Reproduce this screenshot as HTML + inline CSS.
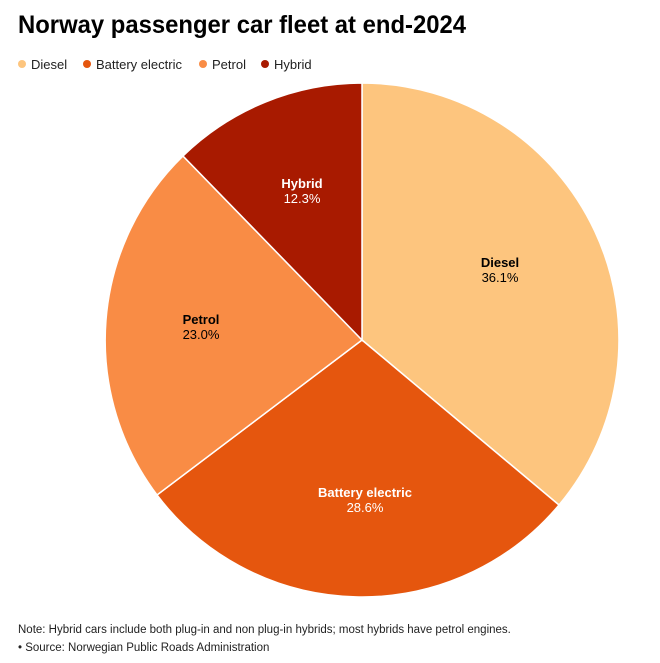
<!DOCTYPE html>
<html><head><meta charset="utf-8"><style>
body{margin:0;width:660px;height:658px;background:#fff;font-family:"Liberation Sans",Arial,sans-serif;overflow:hidden}
</style></head><body>
<svg width="660" height="658" xmlns="http://www.w3.org/2000/svg" font-family="Liberation Sans, Arial, sans-serif">
<text x="18" y="33" font-size="25" font-weight="bold" fill="#000" textLength="448" lengthAdjust="spacingAndGlyphs">Norway passenger car fleet at end-2024</text>
<g font-size="13" fill="#222">
<circle cx="22" cy="64" r="4" fill="#fdc57e"/><text x="31" y="69">Diesel</text>
<circle cx="87" cy="64" r="4" fill="#e5560e"/><text x="96" y="69">Battery electric</text>
<circle cx="203" cy="64" r="4" fill="#f98c45"/><text x="212" y="69">Petrol</text>
<circle cx="265" cy="64" r="4" fill="#a81a00"/><text x="274" y="69">Hybrid</text>
</g>
<g stroke="#fff" stroke-width="1.5">
<path d="M362,340 L362,83 A257,257 0 0 1 559,505 Z" fill="#fdc57e"/>
<path d="M362,340 L559,505 A257,257 0 0 1 157,495 Z" fill="#e5560e"/>
<path d="M362,340 L157,495 A257,257 0 0 1 183,156 Z" fill="#f98c45"/>
<path d="M362,340 L183,156 A257,257 0 0 1 362,83 Z" fill="#a81a00"/>
</g>
<g font-size="13" text-anchor="middle">
<text x="500" y="267" font-weight="bold" fill="#000">Diesel</text><text x="500" y="282" fill="#000">36.1%</text>
<text x="365" y="497" font-weight="bold" fill="#fff">Battery electric</text><text x="365" y="512" fill="#fff">28.6%</text>
<text x="201" y="324" font-weight="bold" fill="#000">Petrol</text><text x="201" y="339" fill="#000">23.0%</text>
<text x="302" y="188" font-weight="bold" fill="#fff">Hybrid</text><text x="302" y="203" fill="#fff">12.3%</text>
</g>
<g font-size="11.5" fill="#222">
<text x="18" y="633">Note: Hybrid cars include both plug-in and non plug-in hybrids; most hybrids have petrol engines.</text>
<text x="18" y="651">• Source: Norwegian Public Roads Administration</text>
</g>
</svg>
</body></html>
